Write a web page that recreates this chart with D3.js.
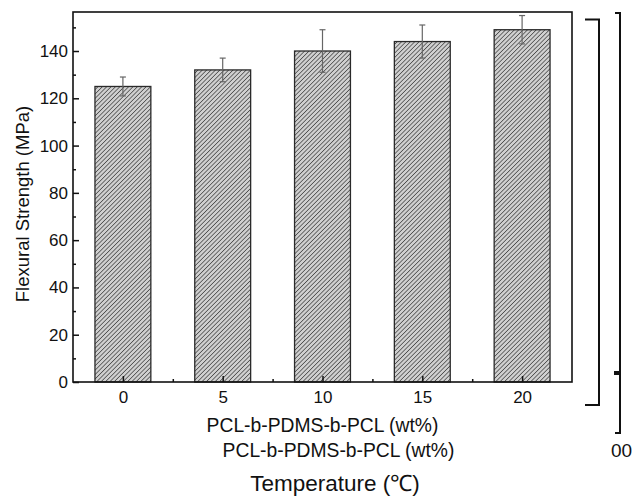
<!DOCTYPE html>
<html><head><meta charset="utf-8">
<script src="https://cdn.jsdelivr.net/npm/d3@7"></script>
<style>body{margin:0;background:#fff}svg{display:block}text{font-family:Arial,"Liberation Sans",sans-serif;fill:#111}</style>
</head><body>
<script>
const categories = ["0","5","10","15","20"];
const values = [125, 132, 140, 144, 149];
const errors = [4, 5, 9, 7, 6];
const yTicks = [0,20,40,60,80,100,120,140];
const yMinorTicks = [10,30,50,70,90,110,130,150];

const W=632,H=498;
const svg=d3.select("body").append("svg").attr("width",W).attr("height",H);
const defs=svg.append("defs");
const pat=defs.append("pattern").attr("id","hatch").attr("patternUnits","userSpaceOnUse")
  .attr("width",3.1).attr("height",3.1).attr("patternTransform","rotate(45)");
pat.append("rect").attr("width",3.1).attr("height",3.1).attr("fill","#d0d0d0");
pat.append("line").attr("x1",0).attr("y1",0).attr("x2",0).attr("y2",3.1).attr("stroke","#3e3e3e").attr("stroke-width",1.4);

const L=73,R=572,T=12,B=382;
const x=d3.scaleLinear().domain([-0.5,categories.length-0.5]).range([L,R]);
const y=d3.scaleLinear().domain([0,156.5]).range([B,T]);
const bw=(x(1)-x(0))*0.56;

// bars
svg.selectAll("rect.bar").data(values).join("rect").attr("class","bar")
  .attr("x",(d,i)=>x(i)-bw/2).attr("y",d=>y(d)).attr("width",bw).attr("height",d=>B-y(d))
  .attr("fill","url(#hatch)").attr("stroke","#2a2a2a").attr("stroke-width",1.3);

// error bars
const eg=svg.append("g").attr("stroke","#666").attr("stroke-width",1.2);
values.forEach((v,i)=>{
  const cx=x(i);
  eg.append("line").attr("x1",cx).attr("x2",cx).attr("y1",y(v+errors[i])).attr("y2",y(v-errors[i]));
  eg.append("line").attr("x1",cx-3).attr("x2",cx+3).attr("y1",y(v+errors[i])).attr("y2",y(v+errors[i]));
  eg.append("line").attr("x1",cx-3).attr("x2",cx+3).attr("y1",y(v-errors[i])).attr("y2",y(v-errors[i]));
});

// frame
svg.append("rect").attr("x",L).attr("y",T).attr("width",R-L).attr("height",B-T)
  .attr("fill","none").attr("stroke","#111").attr("stroke-width",1.6);

// y axis
const yAx=svg.append("g").attr("transform",`translate(${L},0)`)
  .call(d3.axisLeft(y).tickValues(yTicks).tickSize(-6).tickPadding(5).tickFormat(d3.format("d")));
yAx.select(".domain").remove();
yAx.selectAll("line").attr("stroke","#111").attr("stroke-width",1.5);
yAx.selectAll("text").attr("font-size",17).attr("fill","#111");
const yMin=svg.append("g").attr("transform",`translate(${L},0)`)
  .call(d3.axisLeft(y).tickValues(yMinorTicks).tickSize(-3).tickFormat(""));
yMin.select(".domain").remove();
yMin.selectAll("line").attr("stroke","#111").attr("stroke-width",1.5);

// x axis
const xAx=svg.append("g").attr("transform",`translate(0,${B})`)
  .call(d3.axisBottom(x).tickValues(d3.range(categories.length)).tickSize(-6).tickPadding(9).tickFormat(i=>categories[i]));
xAx.select(".domain").remove();
xAx.selectAll("line").attr("stroke","#111").attr("stroke-width",1.5);
xAx.selectAll("text").attr("font-size",17).attr("fill","#111");
const xMin=svg.append("g").attr("transform",`translate(0,${B})`)
  .call(d3.axisBottom(x).tickValues(d3.range(categories.length-1).map(i=>i+0.5)).tickSize(-3).tickFormat(""));
xMin.select(".domain").remove();
xMin.selectAll("line").attr("stroke","#111").attr("stroke-width",1.5);

// titles
svg.append("text").attr("transform","translate(29,204) rotate(-90)").attr("text-anchor","middle")
  .attr("font-size",18.5).text("Flexural Strength (MPa)");
svg.append("text").attr("x",322.5).attr("y",432).attr("text-anchor","middle").attr("font-size",19.3).text("PCL-b-PDMS-b-PCL (wt%)");
svg.append("text").attr("x",338.5).attr("y",457).attr("text-anchor","middle").attr("font-size",19.3).text("PCL-b-PDMS-b-PCL (wt%)");
svg.append("text").attr("x",335).attr("y",491).attr("text-anchor","middle").attr("font-size",22.5).text("Temperature (℃)");

// right brackets (residual axes)
const br=svg.append("g").attr("fill","none").attr("stroke","#111").attr("stroke-width",2);
br.append("path").attr("d","M585,19.5H599V405H585");
br.append("path").attr("d","M615,13H620V433H615");
svg.append("rect").attr("x",614).attr("y",371).attr("width",6).attr("height",4).attr("fill","#111");
svg.append("text").attr("x",611).attr("y",457).attr("font-size",19).text("00");
</script>
</body></html>
